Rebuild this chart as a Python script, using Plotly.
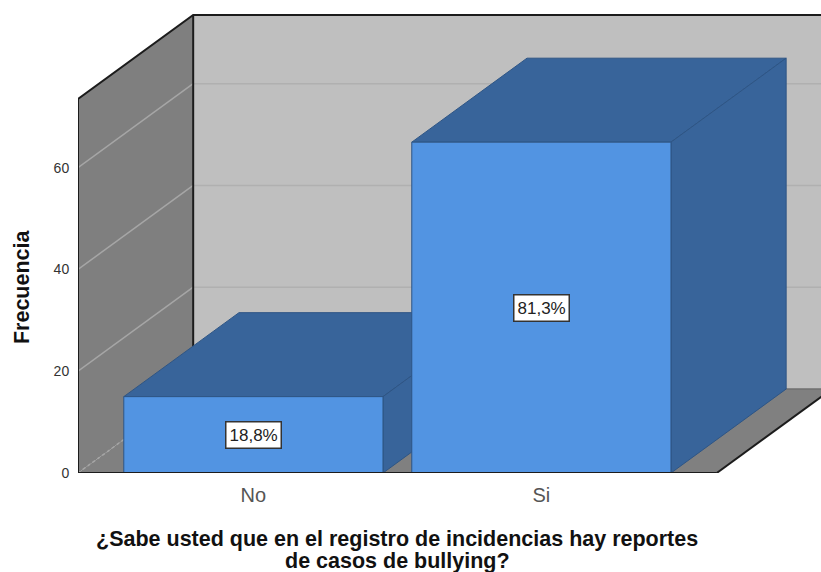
import plotly.graph_objects as go

# values
categories = ["No", "Si"]
frequencies = [15, 65]
percent_labels = ["18,8%", "81,3%"]
y_ticks = [0, 20, 40, 60]

x_title_lines = ["¿Sabe usted que en el registro de incidencias hay reportes", "de casos de bullying?"]
y_title = "Frecuencia"

# oblique projection of the fake 3D box, in axis units
DEPTH_X = 0.4
DEPTH_Y = 16.5
BAR_WIDTH = 0.9
WALL_TOP = 73.5
X_LEFT = -0.609
X_FRONT_RIGHT = 1.609
X_RANGE = [X_LEFT, 1.971]
Y_RANGE = [0, 92.93]

FRONT_COLOR = "#5294e2"
DEPTH_COLOR = "#38649a"
EDGE_COLOR = "#2e5585"
EDGE_DARK = "#1c1c1c"


def polygon(xs, ys, fill, line_color=None, line_width=1):
    return go.Scatter(
        x=xs + xs[:1],
        y=ys + ys[:1],
        mode="lines",
        fill="toself",
        fillcolor=fill,
        line=dict(color=line_color or fill, width=line_width if line_color else 0),
        hoverinfo="skip",
        showlegend=False,
    )


def line(xs, ys, color, width=1, dash="solid"):
    return go.Scatter(
        x=xs,
        y=ys,
        mode="lines",
        line=dict(color=color, width=width, dash=dash),
        hoverinfo="skip",
        showlegend=False,
    )


fig = go.Figure()

# walls and floor
back_x = X_FRONT_RIGHT + DEPTH_X
back_left = X_LEFT + DEPTH_X
fig.add_trace(polygon([back_left, back_x, back_x, back_left],
                      [DEPTH_Y, DEPTH_Y, WALL_TOP + DEPTH_Y, WALL_TOP + DEPTH_Y], "#bfbfbf"))
fig.add_trace(polygon([X_LEFT, back_left, back_left, X_LEFT],
                      [0, DEPTH_Y, WALL_TOP + DEPTH_Y, WALL_TOP], "#7f7f7f"))
fig.add_trace(polygon([X_LEFT, X_FRONT_RIGHT, back_x, back_left],
                      [0, 0, DEPTH_Y, DEPTH_Y], "#808080"))

# gridlines on both walls
for tick in y_ticks:
    fig.add_trace(line([X_LEFT, back_left], [tick, tick + DEPTH_Y], "#a6a6a6", 1.5,
                       "dot" if tick == 0 else "solid"))
    if tick > 0:
        fig.add_trace(line([back_left, back_x], [tick + DEPTH_Y, tick + DEPTH_Y], "#b0b0b0", 1.5))
fig.add_trace(line([back_left, back_x], [DEPTH_Y, DEPTH_Y], "#6f6f6f", 1.5))

# outline of the box
fig.add_trace(line([X_LEFT, X_LEFT, back_left, back_x], [0, WALL_TOP, WALL_TOP + DEPTH_Y, WALL_TOP + DEPTH_Y],
                   EDGE_DARK, 2))
fig.add_trace(line([back_left, back_left], [WALL_TOP + DEPTH_Y, DEPTH_Y], EDGE_DARK, 2))
fig.add_trace(line([X_FRONT_RIGHT, back_x], [0, DEPTH_Y], EDGE_DARK, 2))

# bars, back to front
half = BAR_WIDTH / 2
for i, value in enumerate(frequencies):
    left, right = i - half, i + half
    fig.add_trace(polygon([left, right, right + DEPTH_X, left + DEPTH_X],
                          [value, value, value + DEPTH_Y, value + DEPTH_Y], DEPTH_COLOR, EDGE_COLOR))
    fig.add_trace(polygon([right, right + DEPTH_X, right + DEPTH_X, right],
                          [0, DEPTH_Y, value + DEPTH_Y, value], DEPTH_COLOR, EDGE_COLOR))
    fig.add_trace(polygon([left, right, right, left], [0, 0, value, value], FRONT_COLOR, EDGE_COLOR))

fig.add_trace(line([X_LEFT, X_FRONT_RIGHT], [0, 0], EDGE_DARK, 2))

# percentage boxes in the middle of each front face
for i, value in enumerate(frequencies):
    fig.add_annotation(
        x=i, y=value / 2, text=percent_labels[i], showarrow=False,
        font=dict(family="Liberation Sans", size=17, color="#222222"),
        bgcolor="white", bordercolor="#333333", borderwidth=1.5, borderpad=3,
    )

# axis titles are placed by hand, the two x title lines sit closer than plotly's line height
for line_no, text in enumerate(x_title_lines):
    fig.add_annotation(
        x=0.5, y=-0.139 - 0.0465 * line_no, xref="x", yref="paper", xanchor="center", yanchor="middle",
        text="<b>" + text + "</b>", showarrow=False,
        font=dict(family="Liberation Sans", size=21.5, color="#111111"),
    )
fig.add_annotation(
    x=-0.0755, y=0.395, xref="paper", yref="paper", xanchor="center", yanchor="middle",
    text="<b>" + y_title + "</b>", textangle=-90, showarrow=False,
    font=dict(family="Liberation Sans", size=21.5, color="#111111"),
)

fig.update_layout(
    width=821,
    height=572,
    margin=dict(l=78, r=0, t=0, b=99),
    paper_bgcolor="white",
    plot_bgcolor="white",
    showlegend=False,
    xaxis=dict(
        range=X_RANGE, tickvals=list(range(len(categories))), ticktext=categories,
        showgrid=False, zeroline=False, showline=False,
        ticks="outside", ticklen=4, tickcolor="rgba(0,0,0,0)",
        tickfont=dict(family="Liberation Sans", size=20, color="#555555"),
    ),
    yaxis=dict(
        range=Y_RANGE, tickvals=y_ticks,
        showgrid=False, zeroline=False, showline=False,
        ticks="outside", ticklen=5, tickcolor="rgba(0,0,0,0)",
        tickfont=dict(family="Liberation Sans", size=14, color="#333333"),
    ),
)

# the default body margin would push the figure 8px off the window
fig.write_html("out.html", config={"displayModeBar": False},
               post_script="document.body.style.margin = '0';")
